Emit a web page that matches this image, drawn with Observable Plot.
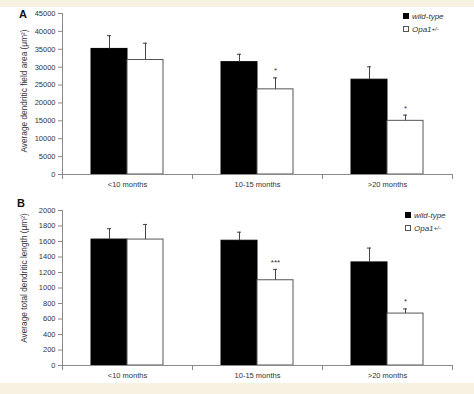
<!DOCTYPE html>
<html><head><meta charset="utf-8">
<script src="https://cdn.jsdelivr.net/npm/d3@7"></script>
<script src="https://cdn.jsdelivr.net/npm/@observablehq/plot@0.6"></script>
<style>
body{margin:0;background:#fff;}
#root{width:474px;height:394px;position:relative;overflow:hidden;font-family:"Liberation Sans",Arial,sans-serif;background:#fff;}
.band{background:#f6f1e1;}
.panel{position:relative;height:188px;}
.panel svg{display:block;position:absolute;left:0;top:0;}
.letter{position:absolute;font-weight:bold;font-size:11px;line-height:11px;color:#111;z-index:2;}
.legend{position:absolute;font-size:8px;line-height:13px;color:#333;z-index:2;white-space:nowrap;}
.sw{display:inline-block;width:6px;height:6px;margin-right:3px;vertical-align:-0.5px;box-sizing:border-box;}
.sup{font-size:6px;font-style:italic;vertical-align:1px;}
</style></head>
<body>
<div id="root">
  <div class="band" style="height:7px"></div>
  <div class="panel" id="pa"><div class="letter" style="left:19px;top:1.5px">A</div></div>
  <div class="panel" id="pb"><div class="letter" style="left:17px;top:3px">B</div></div>
  <div class="band" style="height:11px"></div>
</div>
<script>
const categories = ["<10 months", "10-15 months", ">20 months"];
const genotypes = ["wild-type", "Opa1+/-"];

const areaWT = [35100, 31400, 26500];
const areaWTErr = [3700, 2200, 3600];
const areaOpa = [32000, 23800, 15000];
const areaOpaErr = [4700, 3200, 1600];
const areaSig = ["", "*", "*"];
const areaTicks = [0, 5000, 10000, 15000, 20000, 25000, 30000, 35000, 40000, 45000];
const areaLabel = "Average dendritic field area (μm²)";

const lengthWT = [1625, 1610, 1330];
const lengthWTErr = [140, 110, 185];
const lengthOpa = [1625, 1100, 670];
const lengthOpaErr = [195, 140, 60];
const lengthSig = ["", "***", "*"];
const lengthTicks = [0, 200, 400, 600, 800, 1000, 1200, 1400, 1600, 1800, 2000];
const lengthLabel = "Average total dendritic length (μm²)";

function rowsFor(wt, wtErr, opa, opaErr, sig) {
  return categories.flatMap((c, i) => [
    {cat: c, g: genotypes[0], value: wt[i], err: wtErr[i], sig: ""},
    {cat: c, g: genotypes[1], value: opa[i], err: opaErr[i], sig: sig[i]}
  ]);
}

function panel({rows, ticks, label, marginTop, marginBottom, labelDy}) {
  const W = 474, H = 188, ML = 62, MR = 22;
  const innerH = H - marginTop - marginBottom;
  const facetW = (W - ML - MR) / categories.length;
  const po = 0.76;
  const bw = facetW / (genotypes.length + 2 * po);
  const cap = (bw - 5) / 2;
  const axisColor = "#8a8a8a";
  const err = "#444";
  return Plot.plot({
    width: W, height: H,
    marginLeft: ML, marginRight: MR, marginTop, marginBottom,
    style: {fontFamily: '"Liberation Sans", Arial, sans-serif', fontSize: "7.5px", color: "#333", background: "transparent"},
    fx: {domain: categories, padding: 0, label: null},
    x: {domain: genotypes, paddingInner: 0, paddingOuter: po, axis: null},
    y: {domain: [0, ticks[ticks.length - 1]], label: null},
    marks: [
      Plot.barY(rows.filter(d => d.g === genotypes[0]), {fx: "cat", x: "g", y: "value", fill: "#000", stroke: "#000"}),
      Plot.barY(rows.filter(d => d.g === genotypes[1]), {fx: "cat", x: "g", y: "value", fill: "#fff", stroke: "#555"}),
      Plot.ruleX(rows, {fx: "cat", x: "g", y1: "value", y2: d => d.value + d.err, stroke: err}),
      Plot.tickY(rows, {fx: "cat", x: "g", y: d => d.value + d.err, stroke: err, insetLeft: cap, insetRight: cap}),
      Plot.text(rows.filter(d => d.sig), {fx: "cat", x: "g", y: d => d.value + d.err, text: "sig", dy: -7, fontSize: 8, fill: "#333"}),
      Plot.ruleY([0], {stroke: axisColor}),
      Plot.frame({fx: categories[0], anchor: "left", stroke: axisColor}),
      Plot.frame({anchor: "left", insetTop: innerH, insetBottom: -4, stroke: axisColor}),
      Plot.frame({fx: categories[categories.length - 1], anchor: "right", insetTop: innerH, insetBottom: -4, stroke: axisColor}),
      Plot.axisY(ticks, {anchor: "left", tickSize: 4, tickPadding: 3, tickFormat: d => String(d), stroke: axisColor, fill: "#333", label: null}),
      Plot.axisFx({anchor: "bottom", tickSize: 0, tickPadding: 7, label: null, fill: "#333"}),
      Plot.text([label], {fx: () => categories[0], text: d => d, frameAnchor: "left", textAnchor: "middle", lineAnchor: "middle", rotate: -90, dx: -38, dy: labelDy, fontSize: 8.3, fill: "#333"})
    ]
  });
}

function legend(left, top) {
  const div = document.createElement("div");
  div.className = "legend";
  div.style.left = left + "px";
  div.style.top = top + "px";
  const fills = ["#000", "#fff"];
  genotypes.forEach((g, i) => {
    const row = document.createElement("div");
    const sw = document.createElement("span");
    sw.className = "sw";
    sw.style.background = fills[i];
    sw.style.border = "1px solid " + (i ? "#555" : "#000");
    row.appendChild(sw);
    const m = g.match(/^(.*?)([+\/-]+)$/);
    const it = document.createElement("i");
    it.textContent = m ? m[1] : g;
    row.appendChild(it);
    if (m) {
      const s = document.createElement("span");
      s.className = "sup";
      s.textContent = m[2];
      row.appendChild(s);
    }
    div.appendChild(row);
  });
  return div;
}

const pa = document.getElementById("pa");
pa.prepend(panel({rows: rowsFor(areaWT, areaWTErr, areaOpa, areaOpaErr, areaSig), ticks: areaTicks, label: areaLabel, marginTop: 6, marginBottom: 21, labelDy: -3}));
pa.appendChild(legend(403, 2.5));

const pb = document.getElementById("pb");
pb.prepend(panel({rows: rowsFor(lengthWT, lengthWTErr, lengthOpa, lengthOpaErr, lengthSig), ticks: lengthTicks, label: lengthLabel, marginTop: 15, marginBottom: 18, labelDy: -10}));
pb.appendChild(legend(405, 13.5));
</script>
</body></html>
